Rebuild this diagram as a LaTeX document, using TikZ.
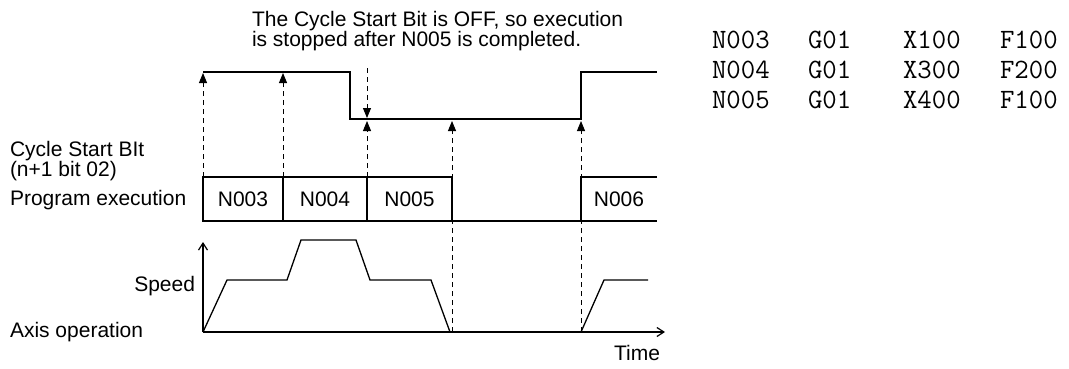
\documentclass[tikz,border=0pt]{standalone}
\usepackage{fontspec}
\setmainfont{Liberation Sans}
\usetikzlibrary{arrows.meta}

\begin{document}
\begin{tikzpicture}[x=1pt, y=-1pt,
  every node/.style={font=\fontsize{21}{18}\selectfont, inner sep=0pt, outer sep=0pt},
  note/.style={font=\fontsize{21}{19.5}\selectfont, align=left},
  code/.style={font=\ttfamily\fontsize{28}{30}\selectfont, anchor=west},
  blk/.style={draw, line width=1.3pt, minimum height=44pt},
  sig/.style={line width=1.6pt},
  prof/.style={line width=1.3pt},
  axis/.style={line width=1.2pt, -{Straight Barb[length=7pt,width=9pt]}},
  dar/.style={line width=0.9pt, dash pattern=on 5pt off 4pt,
              -{Triangle[length=10pt,width=8pt]}},
]
\useasboundingbox (0,0) rectangle (1069,368);

% Note
\node[note, anchor=north west] (msg) at (252,11)
  {The Cycle Start Bit is OFF, so execution\\is stopped after N005 is completed.};

% Program listing
\node[code] (n3) at (712,40) {N003};
\node[code] (g3) at (808,40) {G01};
\node[code] (x3) at (903,40) {X100};
\node[code] (f3) at (1000,40) {F100};
\node[code] (n4) at (712,70) {N004};
\node[code] (g4) at (808,70) {G01};
\node[code] (x4) at (903,70) {X300};
\node[code] (f4) at (1000,70) {F200};
\node[code] (n5) at (712,100) {N005};
\node[code] (g5) at (808,100) {G01};
\node[code] (x5) at (903,100) {X400};
\node[code] (f5) at (1000,100) {F100};

% Row labels
\node[anchor=north west, align=left] (cyc) at (10,141) {Cycle Start BIt\\(n+1 bit 02)};
\node[anchor=west] (pex) at (10,200) {Program execution};
\node[anchor=east] (spd) at (195,286) {Speed};
\node[anchor=west] (axop) at (10,332) {Axis operation};
\node[anchor=east] (time) at (660,353) {Time};

% Cycle Start Bit signal
\coordinate (s1) at (203,73);
\coordinate (s2) at (283,73);
\coordinate (s3a) at (367,118);
\coordinate (s3b) at (367,121);
\coordinate (s4) at (452,121);
\coordinate (s5) at (581,121);
\draw[sig] (203,72) -- (350,72) -- (350,119) -- (581,119) -- (581,72) -- (657,72);

% Program execution blocks
\node[blk, minimum width=80pt] (b3) at (243,199) {N003};
\node[blk, minimum width=84pt] (b4) at (325,199) {N004};
\node[blk, minimum width=85pt] (b5) at (409.5,199) {N005};
\node (b6) at (619,199) {N006};
\draw[blk] (b5.south east) -- (657,221);
\draw[blk] (657,177) -- (581,177) -- (581,221);

% Speed axes and profile
\coordinate (o) at (203,332);
\coordinate (vtop) at (203,242);
\coordinate (hend) at (665,332);
\coordinate (t1) at (452,332);
\coordinate (t2) at (581,332);
\draw[axis] (o) -- (vtop);
\draw[axis] (o) -- (hend);
\draw[prof] (o) -- (227,280) -- (287,280) -- (301,240) -- (356,240)
  -- (370,280) -- (431,280) -- (450,332);
\draw[prof] (t2) -- (604,280) -- (648,280);

% Timing arrows (dashed)
\draw[dar] (b3.north west) -- (s1);
\draw[dar] (b4.north west) -- (s2);
\draw[dar] (367,68) -- (s3a);
\draw[dar] (b5.north west) -- (s3b);
\draw[dar] (t1) -- (s4);
\draw[dar] (t2) -- (s5);

\end{tikzpicture}
\end{document}
